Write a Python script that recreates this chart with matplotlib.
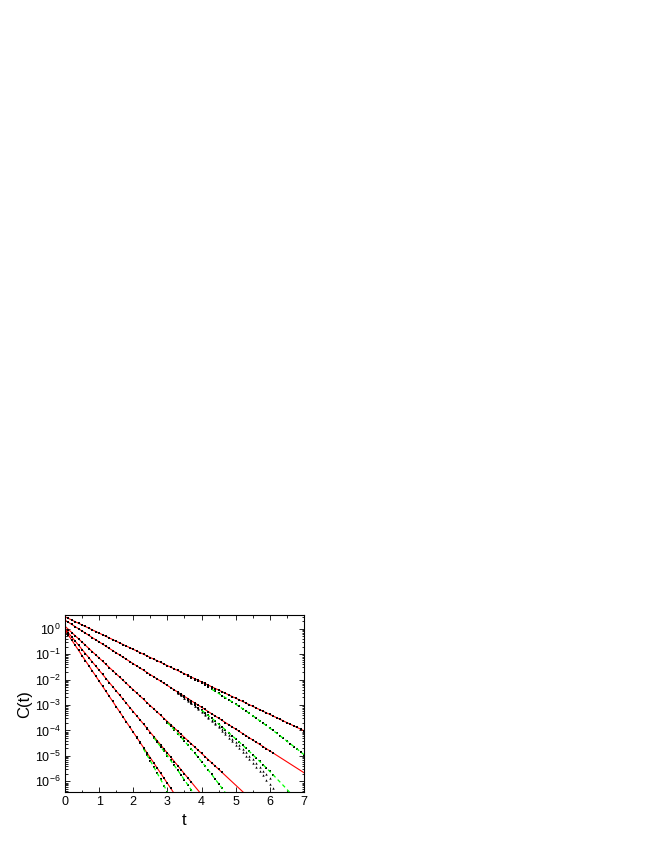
import matplotlib
matplotlib.use('Agg')
import matplotlib.pyplot as plt
import numpy as np
from matplotlib.ticker import LogLocator, MultipleLocator, NullFormatter

plt.rcParams['font.family'] = ['Liberation Sans', 'DejaVu Sans']
plt.rcParams['mathtext.fontset'] = 'custom'
plt.rcParams['mathtext.rm'] = 'Liberation Sans'
plt.rcParams['mathtext.default'] = 'regular'

DT = 0.1  # sampling step of the data points

# red exponential fits: log10 C at t=0 and t=7
fit_t = [0.0, 7.0]
fit1 = [0.47, -4.01]
fit2 = [0.34, -5.66]
fit3 = [0.10, -8.65]
fit4 = [0.00, -11.41]
fit5 = [-0.05, -14.12]

# black squares that follow the red fits (log10 C, starting at t=0)
sq1 = [0.47, 0.41, 0.34, 0.28, 0.21, 0.15, 0.09, 0.02, -0.04, -0.11,
       -0.17, -0.23, -0.30, -0.36, -0.43, -0.49, -0.55, -0.62, -0.68, -0.75,
       -0.81, -0.87, -0.94, -1.00, -1.07, -1.13, -1.19, -1.26, -1.32, -1.39,
       -1.45, -1.51, -1.58, -1.64, -1.71, -1.77, -1.83, -1.90, -1.96, -2.03,
       -2.09, -2.15, -2.22, -2.28, -2.35, -2.41, -2.47, -2.54, -2.60, -2.67,
       -2.73, -2.79, -2.86, -2.92, -2.99, -3.05, -3.11, -3.18, -3.24, -3.31,
       -3.37, -3.43, -3.50, -3.56, -3.63, -3.69, -3.75, -3.82, -3.88, -3.95,
       -4.01]
sq2 = [0.34, 0.25, 0.17, 0.08, 0.00, -0.09, -0.17, -0.26, -0.35, -0.43,
       -0.52, -0.60, -0.69, -0.77, -0.86, -0.95, -1.03, -1.12, -1.20, -1.29,
       -1.37, -1.46, -1.55, -1.63, -1.72, -1.80, -1.89, -1.97, -2.06, -2.15,
       -2.23, -2.32, -2.40, -2.49, -2.57, -2.66, -2.75, -2.83, -2.92, -3.00,
       -3.09, -3.17, -3.26, -3.35, -3.43, -3.52, -3.60, -3.69, -3.77, -3.86,
       -3.95, -4.03, -4.12, -4.20, -4.29, -4.37, -4.46, -4.55, -4.63, -4.72,
       -4.80, -4.89]
sq3 = [0.10, -0.03, -0.15, -0.28, -0.40, -0.53, -0.65, -0.78, -0.90, -1.03,
       -1.15, -1.28, -1.40, -1.53, -1.65, -1.78, -1.90, -2.03, -2.15, -2.28,
       -2.40, -2.53, -2.65, -2.78, -2.90, -3.03, -3.15, -3.28, -3.40, -3.53,
       -3.65, -3.78, -3.90, -4.03, -4.15, -4.28, -4.40, -4.53, -4.65, -4.78,
       -4.90, -5.03, -5.15, -5.28, -5.40, -5.53, -5.65]
sq4 = [0.00, -0.16, -0.33, -0.49, -0.65, -0.82, -0.98, -1.14, -1.30, -1.47,
       -1.63, -1.79, -1.96, -2.12, -2.28, -2.45, -2.61, -2.77, -2.93, -3.10,
       -3.26, -3.42, -3.59, -3.75, -3.91, -4.08, -4.24, -4.40, -4.56, -4.73,
       -4.89, -5.05, -5.22, -5.38, -5.54, -5.71, -5.87, -6.03]
sq5 = [-0.05, -0.25, -0.45, -0.65, -0.85, -1.06, -1.26, -1.46, -1.66, -1.86,
       -2.06, -2.26, -2.46, -2.66, -2.86, -3.07, -3.27, -3.47, -3.67, -3.87,
       -4.07, -4.27, -4.47, -4.67, -4.87, -5.08, -5.28, -5.48, -5.68, -5.88,
       -6.08, -6.28]

# squares that bend away from the fits at late times (start time, log10 C)
br1_t0 = 3.5
br1 = [-1.79, -1.86, -1.93, -2.00, -2.07, -2.15, -2.23, -2.30, -2.38, -2.46,
       -2.54, -2.63, -2.71, -2.79, -2.88, -2.97, -3.05, -3.14, -3.23, -3.33,
       -3.42, -3.51, -3.61, -3.71, -3.80, -3.90, -4.00, -4.10, -4.21, -4.31,
       -4.41, -4.52, -4.63, -4.73, -4.84, -4.95]
br2_t0 = 3.2
br2 = [-2.42, -2.51, -2.60, -2.70, -2.80, -2.90, -3.00, -3.10, -3.20, -3.31,
       -3.41, -3.52, -3.63, -3.75, -3.86, -3.97, -4.09, -4.21, -4.33, -4.45,
       -4.57, -4.70, -4.82, -4.95, -5.08, -5.21, -5.34, -5.48, -5.61, -5.75]
br3_t0 = 2.8
br3 = [-3.41, -3.55, -3.69, -3.83, -3.97, -4.12, -4.26, -4.42, -4.57, -4.73,
       -4.89, -5.05, -5.22, -5.38, -5.56, -5.73, -5.91, -6.09, -6.27]
br4_t0 = 2.4
br4 = [-3.93, -4.10, -4.28, -4.45, -4.63, -4.81, -5.00, -5.18, -5.37, -5.56,
       -5.75, -5.94, -6.14, -6.33]
br5_t0 = 2.1
br5 = [-4.29, -4.51, -4.73, -4.96, -5.19, -5.43, -5.67, -5.92, -6.17, -6.43]

# small points of the second curve, falling off fastest
sm_t0 = 3.3
sm_a = [-2.51, -2.61, -2.71, -2.81, -2.92, -3.02, -3.13, -3.24, -3.35, -3.47,
        -3.58, -3.70, -3.82, -3.94, -4.07, -4.19, -4.32, -4.45, -4.59, -4.72,
        -4.86, -5.00, -5.14, -5.28, -5.43, -5.58, -5.73, -5.88]
sm_b = [-2.52, -2.62, -2.72, -2.83, -2.93, -3.04, -3.15, -3.27, -3.39, -3.51,
        -3.63, -3.75, -3.88, -4.01, -4.14, -4.28, -4.42, -4.56, -4.70, -4.84,
        -4.99, -5.14, -5.29, -5.45, -5.61, -5.77, -5.93, -6.09, -6.26]

# green dashed curves (t, log10 C)
gr1_t = [4.3, 4.8, 5.3, 5.8, 6.3, 6.8, 7.0]
gr1 = [-2.38, -2.79, -3.23, -3.71, -4.21, -4.73, -4.95]
gr2_t = [4.0, 4.4, 4.8, 5.2, 5.6, 6.0, 6.4, 6.8]
gr2 = [-3.20, -3.63, -4.09, -4.57, -5.08, -5.61, -6.17, -6.75]
gr3_t = [3.0, 3.4, 3.8, 4.2, 4.6, 4.8]
gr3 = [-3.69, -4.26, -4.89, -5.56, -6.27, -6.64]
gr4_t = [2.6, 3.0, 3.4, 3.8]
gr4 = [-4.28, -5.00, -5.75, -6.54]
gr5_t = [2.3, 2.6, 2.9, 3.1]
gr5 = [-4.73, -5.43, -6.17, -6.69]


def times(t0, vals):
    return t0 + DT * np.arange(len(vals))


fig = plt.figure(figsize=(6.54, 8.46), dpi=100)
ax = fig.add_axes([0.0994, 0.0635, 0.3654, 0.2095])

for f in [fit1, fit2, fit3, fit4, fit5]:
    ax.plot(fit_t, 10 ** np.array(f), color='red', lw=0.8, zorder=2)

for s in [sq1, sq2, sq3, sq4, sq5]:
    ax.plot(times(0.0, s), 10 ** np.array(s), 's', color='black', ms=2.15,
            mew=0, zorder=3)

for t0, b in [(br1_t0, br1), (br2_t0, br2), (br3_t0, br3), (br4_t0, br4), (br5_t0, br5)]:
    ax.plot(times(t0, b), 10 ** np.array(b), 's', color='black', ms=2.15,
            mew=0, zorder=3)

for b in [sm_a, sm_b]:
    ax.plot(times(sm_t0, b), 10 ** np.array(b), '^', color='black', ms=1.7,
            mew=0, zorder=3)

for gt, g in [(gr1_t, gr1), (gr2_t, gr2), (gr3_t, gr3), (gr4_t, gr4), (gr5_t, gr5)]:
    ax.plot(gt, 10 ** np.array(g), color='#00ff00', lw=0.9, ls=(0, (3, 2.5)),
            zorder=4)

ax.set_yscale('log')
ax.set_xlim(0, 7)
ax.set_ylim(10 ** -6.43, 10 ** 0.54)
ax.xaxis.set_major_locator(MultipleLocator(1))
ax.xaxis.set_minor_locator(MultipleLocator(0.5))
ax.yaxis.set_major_locator(LogLocator(base=10, numticks=20))
ax.yaxis.set_minor_locator(LogLocator(base=10, subs=np.arange(2, 10), numticks=20))
ax.yaxis.set_minor_formatter(NullFormatter())
ax.tick_params(which='both', direction='in', top=True, right=True,
               labelsize=9, width=0.6)
ax.tick_params(which='major', length=3.5, pad=3)
ax.tick_params(which='minor', length=1.8)
for sp in ax.spines.values():
    sp.set_linewidth(0.8)

ax.set_xlabel('t', fontsize=12, labelpad=3)
ax.set_ylabel('C(t)', fontsize=12, labelpad=2)

plt.savefig('out.png', dpi=100)
